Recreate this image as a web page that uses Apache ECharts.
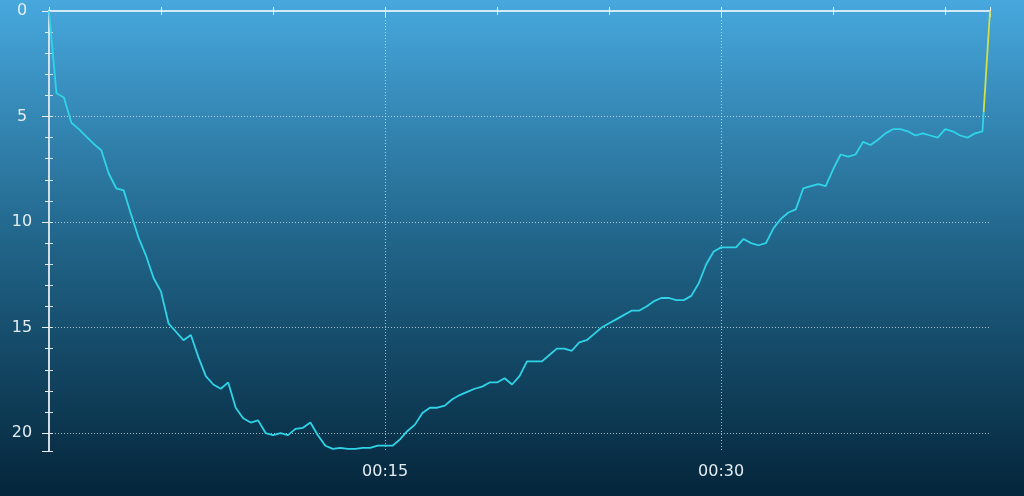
<!DOCTYPE html>
<html>
<head>
<meta charset="utf-8">
<script src="https://cdn.jsdelivr.net/npm/echarts@6/dist/echarts.min.js"></script>
<style>
html,body{margin:0;padding:0;width:1024px;height:496px;overflow:hidden;}
#chart{width:1024px;height:496px;}
</style>
</head>
<body>
<div id="chart"></div>
<script>
// Dive profile: time (seconds) and depth (m)
const timeSec = [
  0,20,40,60,80,100,120,140,160,180,
  200,220,240,260,280,300,320,340,360,380,
  400,420,440,460,480,500,520,540,560,580,
  600,620,640,660,680,700,720,740,760,780,
  800,820,840,860,880,900,920,940,960,980,
  1000,1020,1040,1060,1080,1100,1120,1140,1160,1180,
  1200,1220,1240,1260,1280,1300,1320,1340,1360,1380,
  1400,1420,1440,1460,1480,1500,1520,1540,1560,1580,
  1600,1620,1640,1660,1680,1700,1720,1740,1760,1780,
  1800,1820,1840,1860,1880,1900,1920,1940,1960,1980,
  2000,2020,2040,2060,2080,2100,2120,2140,2160,2180,
  2200,2220,2240,2260,2280,2300,2320,2340,2360,2380,
  2400,2420,2440,2460,2480,2500,2503
];
const depthM = [
  0,3.9,4.1,5.3,5.6,5.95,6.3,6.6,7.7,8.4,
  8.5,9.65,10.75,11.6,12.65,13.3,14.8,15.2,15.6,15.35,
  16.4,17.3,17.7,17.9,17.6,18.8,19.3,19.5,19.4,20.0,
  20.1,20.0,20.1,19.8,19.75,19.5,20.1,20.6,20.75,20.7,
  20.75,20.75,20.7,20.7,20.6,20.6,20.6,20.3,19.9,19.6,
  19.05,18.8,18.8,18.7,18.4,18.2,18.05,17.9,17.8,17.6,
  17.6,17.4,17.7,17.3,16.6,16.6,16.6,16.3,16.0,16.0,
  16.1,15.7,15.6,15.3,15.0,14.8,14.6,14.4,14.2,14.2,
  14.0,13.75,13.6,13.6,13.7,13.7,13.5,12.9,12.0,11.4,
  11.2,11.2,11.2,10.8,11.0,11.1,11.0,10.3,9.85,9.55,
  9.4,8.4,8.3,8.2,8.3,7.5,6.8,6.9,6.8,6.2,
  6.35,6.1,5.8,5.6,5.6,5.7,5.9,5.8,5.9,6.0,
  5.6,5.7,5.9,6.0,5.8,5.7,4.8
];
// fast final ascent (highlighted segment)
const ascentTimeSec = [2503, 2520];
const ascentDepthM = [4.8, 0];

const xTickLabels = {900: '00:15', 1800: '00:30'};
const yLabelValues = [0, 5, 10, 15, 20];

const X_MAX = 2520, Y_MAX = 20.85;

const mainData = timeSec.map((t, i) => [t, depthM[i]]);
const ascentData = ascentTimeSec.map((t, i) => [t, ascentDepthM[i]]);

const FONT = 'DejaVu Sans';
const TXT = '#e4edf2';
const dotted = {show: true, showMinLine: false, showMaxLine: false,
  lineStyle: {color: 'rgba(230,240,245,0.7)', type: [1, 2], width: 1}};

function xAx(o) {
  return Object.assign({type: 'value', min: 0, max: X_MAX, gridIndex: 0,
    axisLine: {show: false}, axisLabel: {show: false}, splitLine: {show: false}}, o);
}
function yAx(o) {
  return Object.assign({type: 'value', min: 0, max: Y_MAX, inverse: true, gridIndex: 0,
    axisLine: {show: false}, axisLabel: {show: false}, splitLine: {show: false}}, o);
}

const chart = echarts.init(document.getElementById('chart'), null, {renderer: 'canvas'});
chart.setOption({
  animation: false,
  backgroundColor: {
    type: 'linear', x: 0, y: 0, x2: 0, y2: 1,
    colorStops: [
      {offset: 0, color: '#47a8de'},
      {offset: 0.5, color: '#206387'},
      {offset: 1, color: '#04253a'}
    ]
  },
  grid: {left: 49, right: 34, top: 11, bottom: 45, containLabel: false},
  xAxis: [
    xAx({position: 'bottom', interval: 300,
      axisLine: {show: true, lineStyle: {color: '#e8f0f4', width: 1.5}},
      axisTick: {show: true, inside: false, length: 3, lineStyle: {color: '#e8f0f4'}},
      axisLabel: {show: true, margin: 13, color: TXT, fontFamily: FONT, fontSize: 16,
        formatter: v => xTickLabels[v] || ''}}),
    xAx({position: 'bottom', interval: 300,
      axisTick: {show: true, inside: true, length: 4, lineStyle: {color: '#e8f0f4'}}}),
    xAx({position: 'bottom', interval: 900,
      axisTick: {show: true, inside: false, length: 6, lineStyle: {color: '#e8f0f4'}},
      splitLine: dotted}),
    xAx({position: 'top', interval: 300,
      axisLine: {show: true, lineStyle: {color: '#dceef8', width: 1.5}},
      axisTick: {show: true, inside: true, length: 4, lineStyle: {color: '#dceef8'}}}),
    xAx({position: 'top', interval: 900,
      axisTick: {show: true, inside: true, length: 6, lineStyle: {color: '#dceef8'}}})
  ],
  yAxis: [
    yAx({position: 'left', interval: 1,
      axisLine: {show: true, lineStyle: {color: '#b4bcc4', width: 1.5}},
      axisTick: {show: true, inside: false, length: 3, lineStyle: {color: '#d8e0e6'}},
      axisLabel: {show: true, margin: 27, align: 'center', color: TXT, fontFamily: FONT, fontSize: 16,
        formatter: v => (yLabelValues.indexOf(v) >= 0 ? String(v) : '')}}),
    yAx({position: 'left', interval: 1,
      axisTick: {show: true, inside: true, length: 4, lineStyle: {color: '#d8e0e6'}}}),
    yAx({position: 'left', interval: 5,
      axisTick: {show: true, inside: false, length: 7, lineStyle: {color: '#d8e0e6'}},
      splitLine: dotted}),
    yAx({position: 'right', interval: 1,
      axisLine: {show: true, lineStyle: {color: '#e8f0f4', width: 1.5}},
      axisTick: {show: true, inside: true, length: 4, lineStyle: {color: '#e8f0f4'}}}),
    yAx({position: 'right', interval: 5,
      axisTick: {show: true, inside: true, length: 7, lineStyle: {color: '#e8f0f4'}}})
  ],
  series: [
    {type: 'line', xAxisIndex: 0, yAxisIndex: 0, data: mainData, showSymbol: false,
      lineStyle: {color: '#2fd4e8', width: 1.8}, z: 5},
    {type: 'line', xAxisIndex: 0, yAxisIndex: 0, data: ascentData, showSymbol: false,
      lineStyle: {color: '#cfe04a', width: 1.8}, z: 5}
  ]
});
</script>
</body>
</html>
